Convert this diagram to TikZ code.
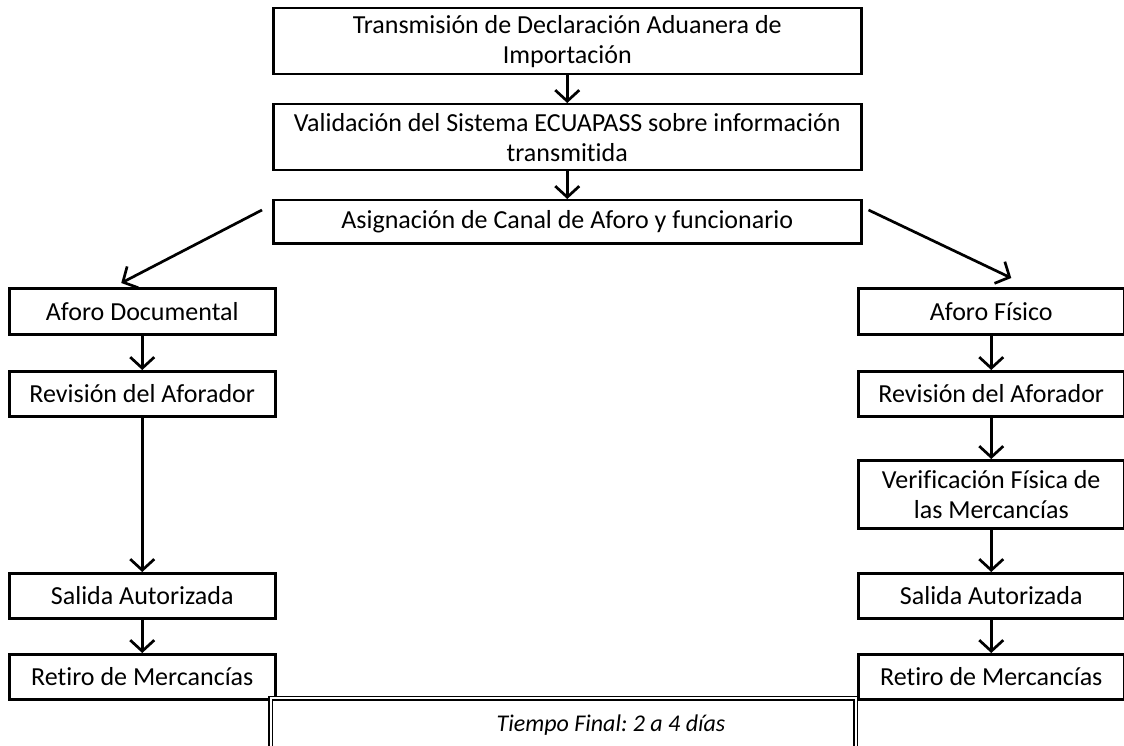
\documentclass[tikz,border=0pt]{standalone}
\usepackage{fontspec}
\setmainfont{Carlito}[Ligatures=NoCommon]
\usetikzlibrary{positioning, arrows.meta}

\begin{document}
\frenchspacing
\begin{tikzpicture}[%
		x=1pt, y=-1pt,
		paso/.style={
			rectangle,
			line width=2.5pt,
			black,
			draw,
			align=center,
			inner sep=0pt,
			anchor=north west,
			font=\fontsize{26}{30}\selectfont
		},
		ancho/.style={
			minimum width=588pt
		},
		lado/.style={
			minimum width=266pt
		},
		flujo/.style={
			line width=2.7pt,
			-{Straight Barb[length=11pt,width=24pt]}
		},
		tiempo/.style={
			rectangle,
			draw,
			double,
			line width=1.5pt,
			double distance=2pt,
			minimum width=585pt,
			minimum height=54pt,
			font=\fontsize{24}{28}\selectfont\itshape
		}]

		\useasboundingbox (0,0) rectangle (1124,746);

		% TRAMITE COMUN

		\node (trans) [paso, ancho, minimum height=66pt] at (272,7) {Transmisión de Declaración Aduanera de\\Importación};
		\node (valid) [paso, ancho, minimum height=66pt] at (272,103) {Validación del Sistema ECUAPASS sobre información\\transmitida};
		\node (asig) [paso, ancho, minimum height=43pt] at (272,199) {Asignación de Canal de Aforo y funcionario};

		% CANAL DOCUMENTAL

		\node (afDoc) [paso, lado, minimum height=46pt] at (8,287) {Aforo Documental};
		\node (revDoc) [paso, lado, minimum height=45pt] at (8,370) {Revisión del Aforador};
		\node (salDoc) [paso, lado, minimum height=45pt] at (8,572) {Salida Autorizada};
		\node (retDoc) [paso, lado, minimum height=45pt] at (8,653) {Retiro de Mercancías};

		% CANAL FISICO

		\node (afFis) [paso, lado, minimum height=46pt] at (857,287) {Aforo Físico};
		\node (revFis) [paso, lado, minimum height=45pt] at (857,370) {Revisión del Aforador};
		\node (verFis) [paso, lado, minimum height=68pt] at (857,459) {Verificación Física de\\las Mercancías};
		\node (salFis) [paso, lado, minimum height=45pt] at (857,572) {Salida Autorizada};
		\node (retFis) [paso, lado, minimum height=45pt] at (857,653) {Retiro de Mercancías};

		\node (final) [tiempo] at (563,725) {\hspace*{96pt}Tiempo Final: 2 a 4 días};

		% LINEAS

		\draw[flujo] (trans) -- (valid);
		\draw[flujo] (valid) -- (asig);
		\draw[flujo] ([xshift=-10pt,yshift=-11pt]asig.north west) -- ([xshift=-21pt,yshift=4pt]afDoc.north);
		\draw[flujo] ([xshift=6pt,yshift=-11pt]asig.north east) -- ([xshift=20pt,yshift=9pt]afFis.north);

		\draw[flujo] (afDoc) -- (revDoc);
		\draw[flujo] (revDoc) -- (salDoc);
		\draw[flujo] (salDoc) -- (retDoc);

		\draw[flujo] (afFis) -- (revFis);
		\draw[flujo] (revFis) -- (verFis);
		\draw[flujo] (verFis) -- (salFis);
		\draw[flujo] (salFis) -- (retFis);
\end{tikzpicture}
\end{document}
